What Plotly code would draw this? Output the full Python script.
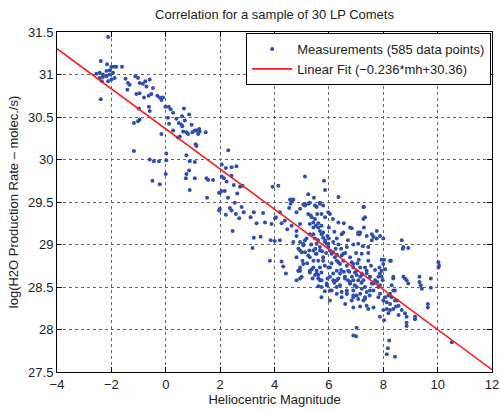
import plotly.graph_objects as go

# (heliocentric magnitude, log H2O production rate)
bright_pts = [
    (-2.12, 31.44), (-2.39, 31.16), (-2.16, 31.12), (-2.0, 31.09), (-1.9, 31.09), (-1.82, 31.09), (-1.61, 31.09),
    (-2.55, 31.01), (-2.43, 31.02), (-2.31, 31.0), (-2.18, 31.04), (-2.06, 31.05), (-1.94, 31.02), (-2.43, 30.96),
    (-2.31, 30.97), (-2.18, 30.98), (-2.06, 31.0), (-2.0, 30.94), (-1.88, 30.96), (-2.12, 30.92), (-2.35, 30.92),
    (-2.39, 30.71), (-1.48, 30.95), (-1.39, 30.90), (-1.33, 30.88), (-1.41, 30.82),
    (-1.12, 30.98), (-1.02, 30.96), (-0.96, 30.90), (-0.84, 30.89), (-0.75, 30.92), (-0.71, 30.86), (-0.59, 30.94),
    (-0.47, 30.84), (-1.08, 30.77), (-0.96, 30.78), (-0.8, 30.73), (-0.63, 30.75), (-0.53, 30.77), (-0.31, 30.75),
    (-0.22, 30.73), (-0.16, 30.70), (-0.1, 30.73), (-0.99, 30.60), (-0.62, 30.62), (-0.59, 30.57), (-0.96, 30.47),
    (-1.02, 30.45), (-1.17, 30.43), (-0.01, 30.62), (0.11, 30.62), (0.18, 30.59), (0.27, 30.55), (0.08, 30.49),
    (0.39, 30.48), (0.48, 30.43), (0.67, 30.60), (0.6, 30.51), (0.7, 30.46), (0.86, 30.53), (0.95, 30.41),
    (-1.17, 30.10), (0.45, 30.26), (0.12, 30.42), (0.58, 30.41), (0.61, 30.39), (-0.16, 30.30), (0.27, 30.34),
    (0.52, 30.27), (0.64, 30.33), (0.76, 30.32), (0.82, 30.30), (0.98, 30.32), (1.07, 30.34), (1.13, 30.34),
    (1.23, 30.36), (1.25, 30.33), (1.19, 30.30), (1.47, 30.32), (1.1, 30.18), (1.13, 30.16),
    (-0.59, 30.00), (-0.44, 29.98), (-0.25, 29.98), (0.02, 30.07), (0.02, 29.99), (0.0, 29.83), (-0.22, 29.71),
    (-0.49, 29.75), (0.76, 30.05), (0.88, 29.98), (0.86, 29.87), (1.07, 29.97), (0.76, 29.83), (0.74, 29.78),
    (0.88, 29.64), (1.07, 29.78), (1.5, 29.78), (1.56, 29.76), (1.74, 29.76), (1.52, 29.55),
]

mid_pts = [
    (2.3, 30.11), (2.06, 29.94), (2.21, 29.90), (2.42, 29.91), (2.06, 29.80), (2.14, 29.78), (2.24, 29.74),
    (1.96, 29.61), (2.17, 29.63), (2.29, 29.55), (2.42, 29.40), (2.36, 29.43), (1.96, 29.40), (2.21, 29.35),
    (1.99, 29.61), (2.05, 29.63), (1.99, 29.42),
    (2.6, 29.92), (2.42, 29.81), (2.5, 29.70), (2.73, 29.68), (2.82, 29.69), (2.63, 29.60), (2.54, 29.49),
    (2.79, 29.44), (2.87, 29.38), (2.58, 29.36), (2.7, 29.31), (2.46, 29.16), (3.24, 29.38), (3.12, 29.32),
    (3.34, 29.25), (3.58, 29.37), (3.65, 29.26), (3.24, 29.08), (3.49, 29.09), (3.19, 28.96), (3.93, 29.68),
    (4.14, 29.69), (3.89, 29.24), (4.05, 29.32), (4.2, 29.38), (4.26, 29.25), (4.38, 29.28), (4.47, 29.18),
    (4.59, 29.48), (4.66, 29.52), (4.63, 29.22), (4.81, 29.38), (4.94, 29.24), (5.12, 29.80), (5.24, 29.59),
    (5.3, 29.49), (5.45, 29.55), (5.67, 29.49), (5.57, 29.36), (3.86, 29.05), (4.01, 29.04), (4.2, 29.05),
    (3.83, 28.81), (4.26, 28.80), (4.32, 28.74), (4.42, 28.66), (4.81, 29.16), (4.94, 28.93), (4.94, 28.73),
    (4.88, 28.69), (5.03, 28.81), (5.12, 29.05), (5.28, 28.93), (5.37, 28.71), (5.49, 28.64), (5.61, 28.60),
    (5.73, 28.67), (5.52, 28.89), (5.61, 28.81), (4.54, 29.43), (4.02, 29.31), (4.81, 28.58), (4.94, 28.60),
    (5.61, 28.51), (4.57, 29.53), (4.63, 29.51),
]

core_pts = [
    (5.86, 29.64), (5.82, 29.75), (6.35, 29.56), (4.69, 29.53), (5.06, 29.47), (5.12, 29.46), (5.49, 29.46),
    (5.55, 29.44), (5.67, 29.48), (5.79, 29.46), (5.98, 29.38), (6.04, 29.36), (5.73, 29.36), (5.86, 29.32),
    (6.35, 29.26), (6.78, 29.20), (7.08, 29.14), (7.27, 29.44), (7.33, 29.32), (7.58, 29.05), (7.76, 29.07),
    (7.45, 28.97), (5.24, 29.36), (5.37, 29.32), (5.43, 29.26), (5.3, 29.24), (5.52, 29.22), (5.61, 29.20),
    (5.67, 29.16), (5.73, 29.12), (5.79, 29.08), (5.43, 29.12), (5.49, 29.07), (5.55, 29.01), (5.86, 29.03),
    (5.92, 29.01), (5.98, 28.97), (6.04, 28.93), (6.10, 28.89), (6.16, 28.91), (6.22, 28.85), (6.29, 28.81),
    (6.41, 28.77), (6.47, 28.87), (6.53, 28.81), (6.66, 28.75), (6.71, 28.69), (6.78, 28.85), (6.84, 28.79),
    (6.9, 28.73), (6.96, 28.67), (7.02, 28.64), (7.15, 28.73), (7.21, 28.66), (7.27, 28.58), (7.33, 28.50),
    (7.39, 28.69), (7.51, 28.62), (7.58, 28.54), (7.64, 28.46), (6.9, 28.58), (7.02, 28.50), (7.15, 28.42),
    (6.78, 28.54), (6.59, 28.60), (6.41, 28.66), (6.29, 28.69), (6.16, 28.58), (6.04, 28.62), (5.98, 28.73),
    (5.79, 28.85), (5.67, 28.93), (5.55, 28.89), (5.43, 28.81), (5.3, 28.85), (5.12, 28.91), (5.06, 28.99),
    (4.94, 29.03), (4.88, 28.95), (4.81, 28.85), (4.94, 28.69), (5.0, 28.62), (5.55, 28.69), (5.67, 28.58),
    (5.73, 28.50), (5.92, 28.54), (6.04, 28.46), (6.29, 28.50), (6.47, 28.44), (6.66, 28.42), (6.9, 28.40),
    (7.08, 28.36), (7.33, 28.38), (7.39, 28.44), (5.61, 28.64), (5.3, 28.69),
    (5.12, 29.47), (5.24, 29.48), (4.94, 29.42), (5.33, 29.34), (5.49, 29.30), (5.61, 29.25), (5.43, 29.20),
    (5.73, 29.22), (5.79, 29.14), (5.30, 29.12), (5.18, 29.07), (5.06, 29.01), (4.81, 29.10), (4.69, 29.03),
    (5.0, 28.91), (5.24, 28.87), (5.43, 28.93), (5.67, 28.97), (5.86, 29.05), (5.98, 29.01), (6.10, 28.91),
    (6.35, 28.79), (6.53, 28.89), (6.66, 28.97), (6.9, 28.77), (7.02, 28.69), (7.15, 29.14), (7.08, 29.01),
    (7.21, 28.89), (7.33, 28.73), (7.39, 28.66), (7.45, 28.81), (6.04, 28.73), (6.16, 28.66), (6.29, 28.58),
    (6.41, 28.52), (6.59, 28.62), (6.78, 28.56), (6.9, 28.46), (7.02, 28.40), (7.21, 28.48), (7.33, 28.36),
    (7.15, 28.62), (5.79, 28.81), (5.67, 28.73), (5.55, 28.66), (5.43, 28.73), (5.30, 28.67), (5.06, 28.77),
    (4.88, 28.69), (5.73, 28.58), (5.92, 28.52), (6.10, 28.46), (6.29, 28.42), (6.47, 28.38), (6.66, 28.42),
    (6.84, 28.34), (5.73, 28.38), (6.04, 28.34), (7.15, 28.27), (7.45, 28.24), (6.90, 28.26),
    (7.27, 29.30), (7.08, 29.12), (6.84, 29.19), (6.53, 29.14), (6.47, 29.12), (6.29, 29.07), (6.16, 29.03),
    (7.58, 29.12), (7.76, 29.16), (7.88, 29.10), (8.0, 29.07), (7.21, 28.64), (7.08, 28.58), (6.78, 28.54),
    (6.66, 28.46), (6.90, 28.38), (7.29, 29.44), (7.29, 29.20), (7.12, 29.12), (7.39, 29.10), (7.64, 29.09),
    (6.2, 29.15), (6.0, 29.2), (5.95, 29.1), (6.25, 28.95), (6.35, 29.0), (6.6, 28.9), (6.45, 28.7),
    (6.55, 28.68), (6.7, 28.58), (6.85, 28.62), (6.1, 28.78), (5.9, 28.9), (5.85, 28.75), (6.7, 29.05),
    (6.9, 29.0), (7.0, 28.9), (7.1, 28.82), (6.55, 29.25), (6.15, 29.3), (5.95, 28.6), (6.2, 28.55),
    (6.6, 28.3), (6.95, 28.52), (7.2, 28.55), (7.5, 28.4), (7.55, 28.75), (7.7, 28.7), (7.45, 28.9),
    (5.6, 29.05), (5.35, 29.0), (5.2, 28.78), (5.4, 28.6), (5.85, 28.45), (6.35, 28.6), (6.75, 28.68),
    (7.05, 28.78), (7.25, 28.98), (6.45, 28.95), (6.3, 28.88), (6.0, 29.07), (5.75, 28.92), (5.5, 28.95),
]

faint_pts = [
    (7.27, 28.34), (7.39, 28.28), (7.64, 28.26), (7.82, 28.38), (7.88, 28.42), (8.0, 28.34), (8.19, 28.40),
    (8.25, 28.30), (8.37, 28.24), (8.56, 28.28), (8.68, 28.23), (8.80, 28.19), (8.50, 28.34), (8.43, 28.46),
    (8.31, 28.52), (8.86, 28.58), (8.92, 28.54), (8.19, 28.19), (7.88, 28.15), (7.82, 28.50), (7.70, 28.58),
    (7.51, 28.62), (8.68, 29.05), (8.74, 28.97), (8.92, 28.96), (7.94, 28.82), (8.0, 28.77), (8.07, 28.71),
    (7.88, 28.66), (7.94, 28.62), (7.64, 28.54), (7.51, 28.46),
    (8.72, 28.95), (10.03, 28.79), (10.03, 28.73), (10.05, 28.75), (8.03, 28.82), (8.25, 28.81), (7.86, 28.73),
    (7.94, 28.69), (7.82, 28.62), (7.98, 28.58), (7.78, 28.56), (7.88, 28.52), (8.37, 28.62), (8.74, 28.62),
    (9.33, 28.62), (9.33, 28.56), (9.38, 28.52), (9.42, 28.48), (9.75, 28.60), (9.75, 28.49), (9.64, 28.30),
    (9.64, 28.26), (9.17, 28.15), (9.17, 28.12), (8.86, 28.08), (8.86, 28.04), (8.86, 28.15), (8.56, 28.17),
    (8.47, 28.27), (8.25, 28.23), (8.13, 28.24), (8.03, 28.11), (8.0, 28.23), (8.07, 28.38), (8.13, 28.32),
    (8.25, 28.42), (8.31, 28.38), (8.37, 28.46), (8.43, 28.34), (8.28, 28.81), (8.37, 28.60), (8.80, 28.60),
    (7.02, 28.02), (6.9, 27.93), (7.0, 27.92), (8.22, 27.87), (8.17, 27.78), (8.13, 27.71), (8.43, 27.68),
    (10.52, 27.85),
]

fit_slope = -0.236
fit_intercept = 30.36
fit_range = [-4, 12]

points = bright_pts + mid_pts + core_pts + faint_pts
mag = [p[0] for p in points]
rate = [p[1] for p in points]

fig = go.Figure()
fig.add_trace(go.Scatter(
    x=mag, y=rate, mode="markers",
    marker=dict(color="#2f4fb0", size=4, line=dict(width=0)),
    name="Measurements (585 data points)",
))
fig.add_trace(go.Scatter(
    x=fit_range, y=[fit_slope * v + fit_intercept for v in fit_range],
    mode="lines", line=dict(color="#ff1a1a", width=1.6),
    name="Linear Fit (\u22120.236*mh+30.36)",
))

axis_common = dict(
    showline=True, linecolor="black", linewidth=1, mirror="allticks",
    ticks="inside", ticklen=5, tickcolor="black",
    showgrid=True, gridcolor="#666666", griddash="dot", gridwidth=1,
    zeroline=False, tickfont=dict(size=13, color="#222"), automargin=False,
)

fig.update_layout(
    width=500, height=411,
    margin=dict(l=57, r=8, t=32, b=39),
    paper_bgcolor="white", plot_bgcolor="white",
    font=dict(family="Liberation Sans, Arial, sans-serif", size=13, color="#222"),
    title=dict(text="Correlation for a sample of 30 LP Comets", x=0.5, xanchor="center", xref="paper",
               y=0.964, yanchor="middle", font=dict(size=13, color="#222")),
    xaxis=dict(range=[-4, 12], dtick=2, tick0=-4,
               title=dict(text="Heliocentric Magnitude", standoff=1, font=dict(size=13)),
               **axis_common),
    yaxis=dict(range=[27.5, 31.5], dtick=0.5, tick0=27.5,
               title=dict(text="log(H2O Production Rate \u2013 molec./s)", standoff=6, font=dict(size=13)),
               **axis_common),
    legend=dict(x=0.998, y=0.997, xanchor="right", yanchor="top",
                bgcolor="white", bordercolor="black", borderwidth=1,
                font=dict(size=13, color="#222"), tracegroupgap=0, itemwidth=40),
    showlegend=True,
)

fig.write_html(
    "out.html",
    config={"displayModeBar": False},
    post_script="document.body.style.margin='0';document.body.style.overflow='hidden';",
)
